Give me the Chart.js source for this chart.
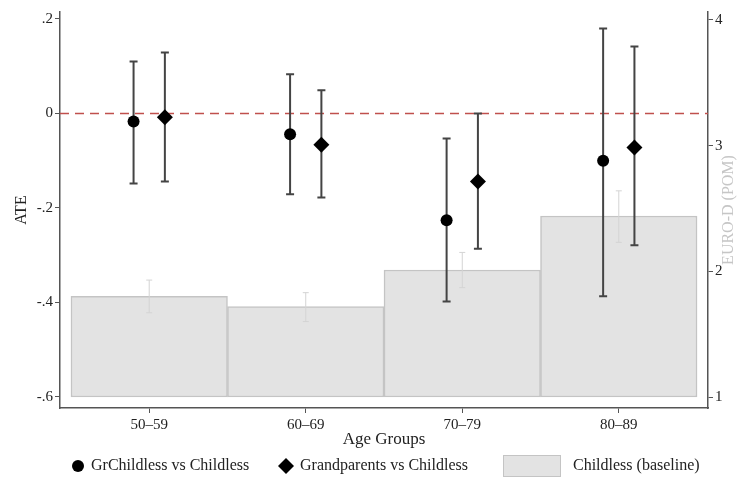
<!DOCTYPE html>
<html>
<head>
<meta charset="utf-8">
<script src="https://cdn.jsdelivr.net/npm/chart.js@4.4.1/dist/chart.umd.min.js"></script>
<style>
  html, body { margin: 0; padding: 0; background: #fff; }
  #wrap { width: 747px; height: 488px; }
</style>
</head>
<body>
<div id="wrap"><canvas id="ateChart" width="747" height="488"></canvas></div>
<script>
const ageGroups = ['50–59', '60–69', '70–79', '80–89'];

const grChildlessATE  = [-0.017, -0.044, -0.226, -0.100];
const grChildlessLow  = [-0.148, -0.171, -0.398, -0.387];
const grChildlessHigh = [ 0.110,  0.083, -0.053,  0.180];

const grandparentsATE  = [-0.008, -0.066, -0.144, -0.072];
const grandparentsLow  = [-0.144, -0.178, -0.286, -0.279];
const grandparentsHigh = [ 0.129,  0.049,  0.000,  0.142];

const childlessPOM  = [1.80, 1.72, 2.01, 2.44];
const childlessLow  = [1.67, 1.60, 1.87, 2.23];
const childlessHigh = [1.93, 1.83, 2.15, 2.64];

const ateTicks = [-0.6, -0.4, -0.2, 0, 0.2];
const pomTicks = [1, 2, 3, 4];
const pomBase = 1;
const FONT = '"Liberation Serif", "DejaVu Serif", serif';

function fmtATE(v) {
    if (v === 0) return '0';
    return v.toFixed(1).replace('0.', '.');
}

// error bars drawn from the dataset's low/high arrays through the scales
function drawErr(chart, ds, meta) {
    const ctx = chart.ctx;
    const yScale = chart.scales[ds.yAxisID];
    ctx.save();
    ctx.strokeStyle = ds.errColor;
    ctx.lineWidth = ds.errWidth;
    meta.data.forEach((el, i) => {
        const x = el.x;
        const y1 = yScale.getPixelForValue(ds.errLow[i]);
        const y2 = yScale.getPixelForValue(ds.errHigh[i]);
        ctx.beginPath();
        ctx.moveTo(x, y1); ctx.lineTo(x, y2);
        ctx.moveTo(x - ds.capW, y1); ctx.lineTo(x + ds.capW, y1);
        ctx.moveTo(x - ds.capW, y2); ctx.lineTo(x + ds.capW, y2);
        ctx.stroke();
    });
    ctx.restore();
}

const extras = {
    id: 'extras',
    beforeDatasetsDraw(chart) {
        const ctx = chart.ctx, a = chart.chartArea;
        const y0 = chart.scales.y.getPixelForValue(0);
        ctx.save();
        ctx.strokeStyle = '#c0504d';
        ctx.lineWidth = 1.5;
        ctx.setLineDash([9, 6]);
        ctx.beginPath();
        ctx.moveTo(a.left, y0); ctx.lineTo(a.right, y0);
        ctx.stroke();
        ctx.restore();
    },
    afterDatasetDraw(chart, args) {
        const ds = chart.data.datasets[args.index];
        if (ds.type === 'bar') drawErr(chart, ds, args.meta);
    },
    beforeDatasetDraw(chart, args) {
        const ds = chart.data.datasets[args.index];
        if (ds.type !== 'bar') drawErr(chart, ds, args.meta);
    },
    afterDraw(chart) {
        const ctx = chart.ctx;
        const a = chart.chartArea;
        ctx.save();
        // right axis title
        ctx.fillStyle = '#c6c6c6';
        ctx.font = '16px ' + FONT;
        ctx.textAlign = 'center';
        ctx.textBaseline = 'middle';
        ctx.translate(729, (a.top + a.bottom) / 2);
        ctx.rotate(-Math.PI / 2);
        ctx.fillText('EURO-D (POM)', 0, 0);
        ctx.restore();

        // legend
        const ds = chart.data.datasets;
        const ly = 466;
        ctx.save();
        ctx.font = '16px ' + FONT;
        ctx.textBaseline = 'middle';
        ctx.textAlign = 'left';
        ctx.fillStyle = '#000';
        ctx.beginPath(); ctx.arc(78, ly, 6, 0, Math.PI * 2); ctx.fill();
        ctx.beginPath();
        ctx.moveTo(286, ly - 8); ctx.lineTo(294, ly); ctx.lineTo(286, ly + 8); ctx.lineTo(278, ly);
        ctx.closePath(); ctx.fill();
        ctx.fillStyle = ds[2].backgroundColor;
        ctx.strokeStyle = ds[2].borderColor;
        ctx.lineWidth = 1;
        ctx.fillRect(503, ly - 11, 58, 22);
        ctx.strokeRect(503.5, ly - 10.5, 57, 21);
        ctx.fillStyle = '#222';
        ctx.fillText(ds[0].label, 91, ly);
        ctx.fillText(ds[1].label, 300, ly);
        ctx.fillText(ds[2].label, 573, ly);
        ctx.restore();
    }
};

const ctx = document.getElementById('ateChart').getContext('2d');
new Chart(ctx, {
    type: 'scatter',
    data: {
        datasets: [
            {
                type: 'scatter', label: 'GrChildless vs Childless', yAxisID: 'y', order: 1,
                data: grChildlessATE.map((v, i) => ({ x: i + 1 - 0.1, y: v })),
                pointStyle: 'circle', pointRadius: 6, pointHoverRadius: 6,
                backgroundColor: '#000', borderColor: '#000', borderWidth: 0,
                errLow: grChildlessLow, errHigh: grChildlessHigh, errColor: '#444', errWidth: 2, capW: 4
            },
            {
                type: 'scatter', label: 'Grandparents vs Childless', yAxisID: 'y', order: 1,
                data: grandparentsATE.map((v, i) => ({ x: i + 1 + 0.1, y: v })),
                pointStyle: 'rectRot', pointRadius: 8, pointHoverRadius: 8,
                backgroundColor: '#000', borderColor: '#000', borderWidth: 0,
                errLow: grandparentsLow, errHigh: grandparentsHigh, errColor: '#444', errWidth: 2, capW: 4
            },
            {
                type: 'bar', label: 'Childless (baseline)', yAxisID: 'y2', order: 2,
                data: childlessPOM.map((v, i) => ({ x: i + 1, y: [pomBase, v] })),
                backgroundColor: '#e3e3e3', borderColor: '#c4c4c4', borderWidth: 1.5,
                borderSkipped: false, barPercentage: 1, categoryPercentage: 1,
                errLow: childlessLow, errHigh: childlessHigh, errColor: '#d4d4d4', errWidth: 1, capW: 3
            }
        ]
    },
    options: {
        responsive: false,
        animation: false,
        layout: { padding: { top: 12, bottom: 38, left: 0, right: 0 } },
        plugins: { legend: { display: false }, tooltip: { enabled: false } },
        scales: {
            x: {
                type: 'linear', position: 'bottom', min: 0.43, max: 4.57, offset: false,
                afterBuildTicks: s => { s.ticks = ageGroups.map((_, i) => ({ value: i + 1 })); },
                afterFit: s => { s.height = 42; },
                grid: { offset: false, drawOnChartArea: false, drawTicks: true, tickLength: 5, color: '#555', lineWidth: 1 },
                border: { display: true, color: '#555', width: 1.5 },
                ticks: { color: '#222', font: { family: FONT, size: 15 }, padding: 3,
                         callback: v => ageGroups[v - 1] },
                title: { display: true, text: 'Age Groups', color: '#222', font: { family: FONT, size: 17 },
                         padding: { top: 0, bottom: 0 } }
            },
            y: {
                type: 'linear', position: 'left', min: -0.6233, max: 0.2148,
                afterBuildTicks: s => { s.ticks = ateTicks.map(v => ({ value: v })); },
                afterFit: s => { s.width = 60; },
                grid: { drawOnChartArea: false, drawTicks: true, tickLength: 5, color: '#555' },
                border: { display: true, color: '#555', width: 1.5 },
                ticks: { color: '#222', font: { family: FONT, size: 15 }, padding: 2, callback: fmtATE },
                title: { display: true, text: 'ATE', color: '#222', font: { family: FONT, size: 16 },
                         padding: { top: 12, bottom: 0 } }
            },
            y2: {
                type: 'linear', position: 'right', min: 0.9125, max: 4.0625,
                afterBuildTicks: s => { s.ticks = pomTicks.map(v => ({ value: v })); },
                afterFit: s => { s.width = 39; },
                grid: { drawOnChartArea: false, drawTicks: true, tickLength: 5, color: '#555' },
                border: { display: true, color: '#555', width: 1.5 },
                ticks: { color: '#222', font: { family: FONT, size: 15 }, padding: 2 }
            }
        }
    },
    plugins: [extras]
});
</script>
</body>
</html>
